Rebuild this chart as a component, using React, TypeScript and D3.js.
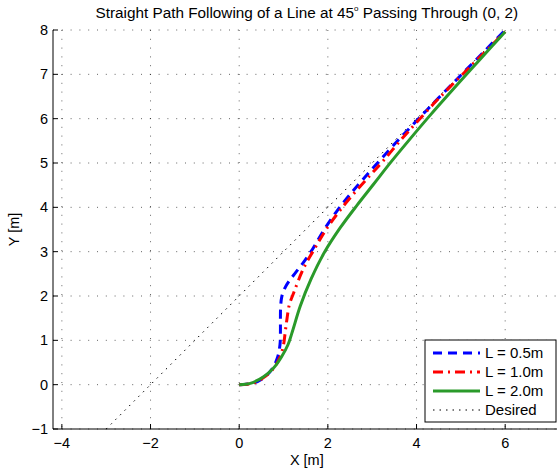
import React from "react";
import * as d3 from "d3";

const xTicks = [-4, -2, 0, 2, 4, 6];
const yTicks = [-1, 0, 1, 2, 3, 4, 5, 6, 7, 8];

const blueX = [0, 0.3, 0.55, 0.74, 0.86, 0.92, 0.93, 0.93, 0.935, 0.96, 1.03, 1.12, 1.25, 1.45, 1.65, 1.9, 2.2, 2.5, 2.8, 3.2, 3.6, 4.0, 4.5, 5.0, 5.5, 6.0];
const blueY = [0, 0.03, 0.15, 0.35, 0.6, 0.9, 1.2, 1.5, 1.75, 1.98, 2.18, 2.33, 2.5, 2.76, 3.05, 3.47, 3.91, 4.29, 4.64, 5.09, 5.53, 5.95, 6.47, 6.98, 7.49, 8.0];

const redX = [0, 0.3, 0.55, 0.77, 0.92, 1.0, 1.04, 1.08, 1.13, 1.24, 1.45, 1.72, 1.98, 2.28, 2.62, 2.96, 3.25, 3.63, 3.97, 4.39, 4.69, 5.03, 5.33, 5.85, 6.0];
const redY = [0, 0.03, 0.16, 0.36, 0.62, 0.9, 1.2, 1.5, 1.8, 2.1, 2.62, 3.1, 3.53, 3.94, 4.35, 4.73, 5.05, 5.5, 5.88, 6.34, 6.65, 6.99, 7.29, 7.81, 7.96];

const greenX = [0, 0.25, 0.55, 0.77, 0.95, 1.1, 1.2, 1.38, 1.62, 1.92, 2.28, 2.66, 3.03, 3.43, 3.86, 4.31, 4.76, 5.21, 5.67, 6.0];
const greenY = [0, 0.03, 0.18, 0.37, 0.62, 0.9, 1.2, 1.78, 2.38, 2.98, 3.54, 4.05, 4.52, 5.03, 5.55, 6.08, 6.59, 7.09, 7.6, 7.96];

const desiredX = [-3, 6];
const desiredY = [-1, 8];

const legendLabels = ["L = 0.5m", "L = 1.0m", "L = 2.0m", "Desired"];

const FONT = "'Liberation Sans', Arial, Helvetica, sans-serif";

export default function App() {
  const left = 53;
  const right = 560.6;
  const top = 30;
  const bottom = 429;
  const x = d3.scaleLinear().domain([-4.2, 7.25]).range([left, right]);
  const y = d3.scaleLinear().domain([-1, 8]).range([bottom, top]);

  const line = d3
    .line<[number, number]>()
    .x((d) => x(d[0]))
    .y((d) => y(d[1]))
    .curve(d3.curveCatmullRom.alpha(0.5));
  const straight = d3
    .line<[number, number]>()
    .x((d) => x(d[0]))
    .y((d) => y(d[1]));

  const zip = (a: number[], b: number[]) => a.map((v, i) => [v, b[i]] as [number, number]);

  const series = [
    { xs: blueX, ys: blueY, color: "#0000ff", dash: "9,6", w: 3 },
    { xs: redX, ys: redY, color: "#ff0000", dash: "10,5,2,5", w: 3 },
    { xs: greenX, ys: greenY, color: "#2a9a2a", dash: undefined, w: 3 },
  ];

  const legendStyles = [
    { color: "#0000ff", dash: "9,6", w: 3 },
    { color: "#ff0000", dash: "10,5,2,5", w: 3 },
    { color: "#2a9a2a", dash: undefined, w: 3 },
    { color: "#000000", dash: "1.5,5", w: 1 },
  ];

  const legX = 425;
  const legY = 340;
  const legW = 131;
  const legH = 82;

  const fmt = (t: number) => (t < 0 ? "\u2212" + Math.abs(t) : String(t));

  return (
    <svg
      width={557}
      height={476}
      style={{ position: "absolute", left: 0, top: 0, background: "#fff" }}
      fontFamily={FONT}
    >
      <rect x={0} y={0} width={557} height={476} fill="#fff" />
      {xTicks.map((t) => (
        <line
          key={"gx" + t}
          x1={x(t)}
          x2={x(t)}
          y1={top}
          y2={bottom}
          stroke="#000"
          strokeWidth={1}
          strokeDasharray="1,7.8"
          opacity={0.6}
        />
      ))}
      {yTicks.map((t) => (
        <line
          key={"gy" + t}
          x1={left}
          x2={557}
          y1={y(t)}
          y2={y(t)}
          stroke="#000"
          strokeWidth={1}
          strokeDasharray="1,7.8"
          opacity={0.6}
        />
      ))}
      <path
        d={straight(zip(desiredX, desiredY)) || ""}
        fill="none"
        stroke="#000"
        strokeWidth={1}
        strokeDasharray="1.5,5"
      />
      {series.map((s, i) => (
        <path
          key={i}
          d={line(zip(s.xs, s.ys)) || ""}
          fill="none"
          stroke={s.color}
          strokeWidth={s.w}
          strokeDasharray={s.dash}
        />
      ))}
      <line x1={left} x2={left} y1={top} y2={bottom} stroke="#000" strokeWidth={1} />
      <line x1={left} x2={557} y1={bottom} y2={bottom} stroke="#000" strokeWidth={1} />
      {yTicks.map((t) => (
        <g key={"ty" + t}>
          <line x1={left} x2={left + 5} y1={y(t)} y2={y(t)} stroke="#000" />
          <text x={left - 5} y={y(t)} dy="0.35em" textAnchor="end" fontSize={14.5}>
            {fmt(t)}
          </text>
        </g>
      ))}
      {xTicks.map((t) => (
        <g key={"tx" + t}>
          <line x1={x(t)} x2={x(t)} y1={bottom} y2={bottom - 5} stroke="#000" />
          <text x={x(t)} y={bottom + 19} textAnchor="middle" fontSize={14.5}>
            {fmt(t)}
          </text>
        </g>
      ))}
      <text x={(left + right) / 2} y={465} textAnchor="middle" fontSize={14.5}>
        X [m]
      </text>
      <text
        transform={`translate(19,${(top + bottom) / 2}) rotate(-90)`}
        textAnchor="middle"
        fontSize={14.5}
      >
        Y [m]
      </text>
      <text x={(left + right) / 2} y={18} textAnchor="middle" fontSize={15.3}>
        Straight Path Following of a Line at 45
        <tspan fontSize={8} dy={-7}>
          o
        </tspan>
        <tspan dy={7}> Passing Through (0, 2)</tspan>
      </text>
      <rect x={legX} y={legY} width={legW} height={legH} fill="#fff" stroke="#000" strokeWidth={1} />
      {legendLabels.map((lab, i) => {
        const ly = legY + 13 + i * 19;
        const st = legendStyles[i];
        return (
          <g key={lab}>
            <line
              x1={legX + 8}
              x2={legX + 55}
              y1={ly}
              y2={ly}
              stroke={st.color}
              strokeWidth={st.w}
              strokeDasharray={st.dash}
            />
            <text x={legX + 60} y={ly} dy="0.36em" fontSize={15}>
              {lab}
            </text>
          </g>
        );
      })}
    </svg>
  );
}
